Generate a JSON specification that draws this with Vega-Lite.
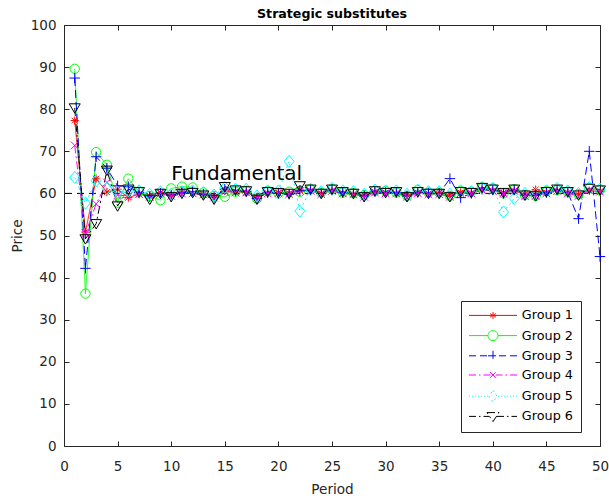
{
  "$schema": "https://vega.github.io/schema/vega-lite/v6.json",
  "width": 536,
  "height": 421,
  "autosize": {"type": "none"},
  "padding": {"left": 64, "top": 25, "right": 9, "bottom": 53},
  "background": "white",
  "title": {"text": "Strategic substitutes", "font": "DejaVu Sans", "fontSize": 12.6, "fontWeight": "bold", "color": "#000000", "anchor": "middle", "baseline": "alphabetic", "frame": "group", "offset": 1, "dy": 13.5},
  "config": {
    "view": {"stroke": null},
    "font": "DejaVu Sans",
    "axis": {"domainColor": "#262626", "tickColor": "#262626", "labelColor": "#262626", "titleColor": "#262626", "labelFont": "DejaVu Sans", "titleFont": "DejaVu Sans", "labelFontSize": 13.5, "titleFontSize": 13.6, "titleFontWeight": "normal", "grid": false, "tickSize": -5, "domainWidth": 1, "tickWidth": 1, "labelFlush": false},
    "legend": {"orient": "none", "legendX": 397, "legendY": 276, "strokeColor": "#262626", "fillColor": "#ffffff", "padding": 8, "rowPadding": 5.2, "labelFont": "DejaVu Sans", "labelFontSize": 12.8, "labelColor": "#000000", "symbolSize": 16, "symbolStrokeWidth": 1, "symbolOpacity": 1, "labelOffset": 40}
  },
  "data": {"values": [
    {"period": 1, "Group 1": 77.3, "Group 2": 89.6, "Group 3": 87.4, "Group 4": 71.4, "Group 5": 63.8, "Group 6": 80.3},
    {"period": 2, "Group 1": 50.8, "Group 2": 36.2, "Group 3": 42.2, "Group 4": 50.5, "Group 5": 57.7, "Group 6": 49.2},
    {"period": 3, "Group 1": 63.5, "Group 2": 69.8, "Group 3": 68.7, "Group 4": 57.5, "Group 5": 63.0, "Group 6": 52.8},
    {"period": 4, "Group 1": 60.3, "Group 2": 66.8, "Group 3": 66.0, "Group 4": 62.6, "Group 5": 61.2, "Group 6": 65.5},
    {"period": 5, "Group 1": 61.0, "Group 2": 57.8, "Group 3": 61.8, "Group 4": 59.6, "Group 5": 60.2, "Group 6": 57.0},
    {"period": 6, "Group 1": 59.0, "Group 2": 63.5, "Group 3": 61.6, "Group 4": 59.4, "Group 5": 60.6, "Group 6": 61.0},
    {"period": 7, "Group 1": 59.8, "Group 2": 60.4, "Group 3": 60.2, "Group 4": 59.8, "Group 5": 60.6, "Group 6": 60.4},
    {"period": 8, "Group 1": 59.4, "Group 2": 59.4, "Group 3": 59.2, "Group 4": 59.2, "Group 5": 59.8, "Group 6": 58.6},
    {"period": 9, "Group 1": 60.2, "Group 2": 58.4, "Group 3": 60.0, "Group 4": 60.0, "Group 5": 60.4, "Group 6": 60.0},
    {"period": 10, "Group 1": 59.6, "Group 2": 61.2, "Group 3": 59.6, "Group 4": 59.4, "Group 5": 59.8, "Group 6": 59.2},
    {"period": 11, "Group 1": 60.4, "Group 2": 61.6, "Group 3": 60.2, "Group 4": 60.0, "Group 5": 60.4, "Group 6": 60.0},
    {"period": 12, "Group 1": 60.0, "Group 2": 61.4, "Group 3": 60.4, "Group 4": 60.0, "Group 5": 60.6, "Group 6": 60.2},
    {"period": 13, "Group 1": 59.6, "Group 2": 60.2, "Group 3": 59.8, "Group 4": 59.8, "Group 5": 60.2, "Group 6": 59.6},
    {"period": 14, "Group 1": 59.2, "Group 2": 59.4, "Group 3": 59.0, "Group 4": 59.0, "Group 5": 59.6, "Group 6": 58.6},
    {"period": 15, "Group 1": 60.6, "Group 2": 59.2, "Group 3": 61.0, "Group 4": 60.4, "Group 5": 61.4, "Group 6": 61.6},
    {"period": 16, "Group 1": 60.4, "Group 2": 60.4, "Group 3": 60.6, "Group 4": 60.2, "Group 5": 61.0, "Group 6": 60.8},
    {"period": 17, "Group 1": 60.2, "Group 2": 60.6, "Group 3": 60.4, "Group 4": 60.2, "Group 5": 61.0, "Group 6": 60.6},
    {"period": 18, "Group 1": 59.2, "Group 2": 58.8, "Group 3": 58.8, "Group 4": 59.0, "Group 5": 59.4, "Group 6": 58.6},
    {"period": 19, "Group 1": 60.0, "Group 2": 60.6, "Group 3": 60.2, "Group 4": 60.0, "Group 5": 60.6, "Group 6": 60.4},
    {"period": 20, "Group 1": 60.2, "Group 2": 60.0, "Group 3": 60.0, "Group 4": 60.0, "Group 5": 60.6, "Group 6": 60.2},
    {"period": 21, "Group 1": 60.0, "Group 2": 60.4, "Group 3": 59.8, "Group 4": 59.8, "Group 5": 67.6, "Group 6": 60.0},
    {"period": 22, "Group 1": 60.8, "Group 2": 60.4, "Group 3": 60.6, "Group 4": 60.6, "Group 5": 55.8, "Group 6": 61.8},
    {"period": 23, "Group 1": 60.6, "Group 2": 61.0, "Group 3": 60.8, "Group 4": 60.6, "Group 5": 61.0, "Group 6": 61.0},
    {"period": 24, "Group 1": 60.0, "Group 2": 60.2, "Group 3": 60.0, "Group 4": 59.8, "Group 5": 60.4, "Group 6": 60.0},
    {"period": 25, "Group 1": 60.6, "Group 2": 61.0, "Group 3": 60.8, "Group 4": 60.6, "Group 5": 61.2, "Group 6": 61.0},
    {"period": 26, "Group 1": 60.0, "Group 2": 60.2, "Group 3": 60.2, "Group 4": 60.0, "Group 5": 60.6, "Group 6": 60.4},
    {"period": 27, "Group 1": 59.8, "Group 2": 60.0, "Group 3": 60.0, "Group 4": 59.8, "Group 5": 60.4, "Group 6": 60.0},
    {"period": 28, "Group 1": 59.6, "Group 2": 59.6, "Group 3": 59.4, "Group 4": 59.2, "Group 5": 59.8, "Group 6": 59.2},
    {"period": 29, "Group 1": 60.4, "Group 2": 60.6, "Group 3": 60.4, "Group 4": 60.2, "Group 5": 60.8, "Group 6": 60.6},
    {"period": 30, "Group 1": 60.2, "Group 2": 60.6, "Group 3": 60.2, "Group 4": 60.0, "Group 5": 60.6, "Group 6": 60.2},
    {"period": 31, "Group 1": 60.0, "Group 2": 60.2, "Group 3": 60.2, "Group 4": 60.0, "Group 5": 60.6, "Group 6": 60.4},
    {"period": 32, "Group 1": 59.6, "Group 2": 59.4, "Group 3": 59.4, "Group 4": 59.2, "Group 5": 59.8, "Group 6": 59.2},
    {"period": 33, "Group 1": 60.2, "Group 2": 60.8, "Group 3": 60.2, "Group 4": 60.0, "Group 5": 60.8, "Group 6": 60.4},
    {"period": 34, "Group 1": 60.0, "Group 2": 60.2, "Group 3": 60.0, "Group 4": 59.8, "Group 5": 60.4, "Group 6": 60.0},
    {"period": 35, "Group 1": 60.2, "Group 2": 60.2, "Group 3": 60.0, "Group 4": 59.8, "Group 5": 60.4, "Group 6": 60.0},
    {"period": 36, "Group 1": 59.6, "Group 2": 59.4, "Group 3": 63.5, "Group 4": 59.2, "Group 5": 59.8, "Group 6": 59.2},
    {"period": 37, "Group 1": 60.2, "Group 2": 60.6, "Group 3": 59.0, "Group 4": 60.0, "Group 5": 60.6, "Group 6": 60.4},
    {"period": 38, "Group 1": 60.0, "Group 2": 60.4, "Group 3": 60.0, "Group 4": 60.0, "Group 5": 60.4, "Group 6": 60.2},
    {"period": 39, "Group 1": 60.8, "Group 2": 61.4, "Group 3": 61.0, "Group 4": 60.8, "Group 5": 61.4, "Group 6": 61.4},
    {"period": 40, "Group 1": 60.6, "Group 2": 61.2, "Group 3": 60.8, "Group 4": 60.6, "Group 5": 61.2, "Group 6": 61.0},
    {"period": 41, "Group 1": 60.2, "Group 2": 60.0, "Group 3": 60.0, "Group 4": 60.0, "Group 5": 55.6, "Group 6": 60.2},
    {"period": 42, "Group 1": 60.6, "Group 2": 61.0, "Group 3": 60.8, "Group 4": 60.6, "Group 5": 58.8, "Group 6": 61.0},
    {"period": 43, "Group 1": 59.8, "Group 2": 59.6, "Group 3": 59.6, "Group 4": 59.4, "Group 5": 60.0, "Group 6": 59.6},
    {"period": 44, "Group 1": 60.9, "Group 2": 59.4, "Group 3": 59.6, "Group 4": 59.4, "Group 5": 59.8, "Group 6": 59.4},
    {"period": 45, "Group 1": 60.2, "Group 2": 60.6, "Group 3": 60.2, "Group 4": 60.0, "Group 5": 60.6, "Group 6": 60.4},
    {"period": 46, "Group 1": 60.6, "Group 2": 60.8, "Group 3": 60.8, "Group 4": 60.6, "Group 5": 61.2, "Group 6": 61.0},
    {"period": 47, "Group 1": 60.2, "Group 2": 60.4, "Group 3": 60.2, "Group 4": 60.0, "Group 5": 60.6, "Group 6": 60.4},
    {"period": 48, "Group 1": 59.8, "Group 2": 59.8, "Group 3": 54.0, "Group 4": 59.4, "Group 5": 60.0, "Group 6": 59.6},
    {"period": 49, "Group 1": 60.6, "Group 2": 61.2, "Group 3": 70.0, "Group 4": 60.8, "Group 5": 61.4, "Group 6": 61.2},
    {"period": 50, "Group 1": 60.4, "Group 2": 60.8, "Group 3": 45.0, "Group 4": 60.4, "Group 5": 61.0, "Group 6": 60.8}
  ]},
  "transform": [{"fold": ["Group 1", "Group 2", "Group 3", "Group 4", "Group 5", "Group 6"], "as": ["group", "price"]}],
  "resolve": {"axis": {"x": "independent", "y": "independent"}},
  "layer": [
    {
      "data": {"values": [{"fundamental": 60}]},
      "mark": {"type": "rule", "color": "#000000", "strokeDash": [7, 5], "strokeWidth": 1},
      "encoding": {
        "y": {"field": "fundamental", "type": "quantitative", "scale": {"domain": [0, 100], "nice": false}, "axis": null}
      }
    },
    {
      "data": {"values": [{"label": "Fundamental"}]},
      "mark": {"type": "text", "font": "DejaVu Sans", "fontSize": 20, "align": "left", "baseline": "alphabetic", "color": "#000000"},
      "encoding": {
        "x": {"datum": 10, "type": "quantitative", "scale": {"domain": [0, 50], "nice": false}, "axis": null},
        "y": {"datum": 63.2, "type": "quantitative", "scale": {"domain": [0, 100], "nice": false}, "axis": null},
        "text": {"field": "label"}
      }
    },
    {
      "mark": {"type": "line", "strokeWidth": 1},
      "encoding": {
        "x": {"field": "period", "type": "quantitative", "scale": {"domain": [0, 50], "nice": false}, "axis": {"orient": "top", "labels": false, "title": null, "values": [0, 5, 10, 15, 20, 25, 30, 35, 40, 45, 50]}},
        "y": {"field": "price", "type": "quantitative", "scale": {"domain": [0, 100], "nice": false}, "axis": {"orient": "right", "labels": false, "title": null, "values": [0, 10, 20, 30, 40, 50, 60, 70, 80, 90, 100]}},
        "color": {"field": "group", "type": "nominal", "scale": {"domain": ["Group 1", "Group 2", "Group 3", "Group 4", "Group 5", "Group 6"], "range": ["#ff0000", "#00ff00", "#0000ff", "#ff00ff", "#00ffff", "#000000"]},
          "legend": {"title": null, "labelExpr": "datum.label + '   '", "encode": {"symbols": {"update": {"x": {"value": 24}, "fill": {"value": "transparent"}, "size": {"value": 16}}}}}},
        "strokeDash": {"field": "group", "type": "nominal", "scale": {"domain": ["Group 1", "Group 2", "Group 3", "Group 4", "Group 5", "Group 6"], "range": [[1, 0], [1, 0], [8, 4], [8, 3, 2, 3], [2, 3], [8, 3, 2, 3]]}, "legend": null}
      }
    },
    {
      "transform": [{"filter": "datum.group == 'Group 1'"}],
      "mark": {"type": "point", "filled": false, "size": 121, "strokeWidth": 1, "opacity": 1, "color": "#ff0000", "shape": "M-0.75,0L0.75,0M0,-0.75L0,0.75M-0.53,-0.53L0.53,0.53M-0.53,0.53L0.53,-0.53"},
      "encoding": {
        "x": {"field": "period", "type": "quantitative", "scale": {"domain": [0, 50], "nice": false}, "axis": {"orient": "bottom", "title": "Period", "values": [0, 5, 10, 15, 20, 25, 30, 35, 40, 45, 50], "labelPadding": 18.5, "titleBaseline": "alphabetic", "titleY": 47}},
        "y": {"field": "price", "type": "quantitative", "scale": {"domain": [0, 100], "nice": false}, "axis": {"orient": "left", "title": "Price", "values": [0, 10, 20, 30, 40, 50, 60, 70, 80, 90, 100], "labelPadding": 13, "titleBaseline": "alphabetic", "titleX": -43}}
      }
    },
    {
      "transform": [{"filter": "datum.group == 'Group 2'"}],
      "mark": {"type": "point", "filled": false, "size": 121, "strokeWidth": 1, "opacity": 1, "color": "#00ff00", "shape": "M-0.85,0A0.85,0.85 0 1,1 0.85,0A0.85,0.85 0 1,1 -0.85,0Z"},
      "encoding": {
        "x": {"field": "period", "type": "quantitative", "axis": null},
        "y": {"field": "price", "type": "quantitative", "axis": null}
      }
    },
    {
      "transform": [{"filter": "datum.group == 'Group 3'"}],
      "mark": {"type": "point", "filled": false, "size": 121, "strokeWidth": 1, "opacity": 1, "color": "#0000ff", "shape": "M-0.95,0L0.95,0M0,-0.95L0,0.95"},
      "encoding": {
        "x": {"field": "period", "type": "quantitative", "axis": null},
        "y": {"field": "price", "type": "quantitative", "axis": null}
      }
    },
    {
      "transform": [{"filter": "datum.group == 'Group 4'"}],
      "mark": {"type": "point", "filled": false, "size": 121, "strokeWidth": 1, "opacity": 1, "color": "#ff00ff", "shape": "M-0.7,-0.7L0.7,0.7M-0.7,0.7L0.7,-0.7"},
      "encoding": {
        "x": {"field": "period", "type": "quantitative", "axis": null},
        "y": {"field": "price", "type": "quantitative", "axis": null}
      }
    },
    {
      "transform": [{"filter": "datum.group == 'Group 5'"}],
      "mark": {"type": "point", "filled": false, "size": 121, "strokeWidth": 1, "opacity": 1, "color": "#00ffff", "shape": "M0,-1.1L0.9,0L0,1.1L-0.9,0Z"},
      "encoding": {
        "x": {"field": "period", "type": "quantitative", "axis": null},
        "y": {"field": "price", "type": "quantitative", "axis": null}
      }
    },
    {
      "transform": [{"filter": "datum.group == 'Group 6'"}],
      "mark": {"type": "point", "filled": false, "size": 121, "strokeWidth": 1, "opacity": 1, "color": "#000000", "shape": "M-1,-0.75L1,-0.75L0,0.95Z"},
      "encoding": {
        "x": {"field": "period", "type": "quantitative", "axis": null},
        "y": {"field": "price", "type": "quantitative", "axis": null}
      }
    },
    {
      "transform": [{"filter": "datum.period > 1000"}],
      "mark": {"type": "point", "filled": false, "strokeWidth": 1},
      "encoding": {
        "x": {"field": "period", "type": "quantitative", "axis": null},
        "y": {"field": "price", "type": "quantitative", "axis": null},
        "color": {"field": "group", "type": "nominal", "scale": {"domain": ["Group 1", "Group 2", "Group 3", "Group 4", "Group 5", "Group 6"], "range": ["#ff0000", "#00ff00", "#0000ff", "#ff00ff", "#00ffff", "#000000"]},
          "legend": {"title": null, "labelExpr": "datum.label + '   '", "encode": {"symbols": {"update": {"x": {"value": 24}, "fill": {"value": "transparent"}, "size": {"value": 16}}}}}},
        "shape": {"field": "group", "type": "nominal", "scale": {"domain": ["Group 1", "Group 2", "Group 3", "Group 4", "Group 5", "Group 6"], "range": [
          "M-12,0L12,0M0,-1.75L0,1.75M-1.5,-0.9L1.5,0.9M-1.5,0.9L1.5,-0.9",
          "M-12,0L-2.5,0M2.5,0L12,0M-2.5,0A2.5,2.5 0 1,1 2.5,0A2.5,2.5 0 1,1 -2.5,0",
          "M-12,0L-8.5,0M-6.5,0L-3,0M-2.5,0L2.5,0M0,-2.5L0,2.5M3,0L6.5,0M8.5,0L12,0",
          "M-12,0L-8.5,0M-7,0L-6.25,0M-4.75,0L-1.25,0M-1.5,-1.5L1.5,1.5M-1.5,1.5L1.5,-1.5M1.25,0L4.75,0M6.25,0L7,0M8.5,0L12,0",
          "M-12,0L-11.5,0M-10.5,0L-10,0M-9,0L-8.5,0M-7.5,0L-7,0M-6,0L-5.5,0M-4.5,0L-4,0M-3,0L-2.5,0M0,-3L2,0L0,3L-2,0ZM2.5,0L3,0M4,0L4.5,0M5.5,0L6,0M7,0L7.5,0M8.5,0L9,0M10,0L10.5,0M11.5,0L12,0",
          "M-12,0L-8.5,0M-7,0L-6.25,0M-4.75,0L-1.8,0M-3,-1.9L3,-1.9L0,2.6ZM1.8,0L5.5,0M7,0L7.75,0M9.25,0L12,0"]},
          "legend": {"title": null, "labelExpr": "datum.label + '   '", "encode": {"symbols": {"update": {"x": {"value": 24}, "fill": {"value": "transparent"}, "size": {"value": 16}}}}}}
      }
    }
  ]
}
